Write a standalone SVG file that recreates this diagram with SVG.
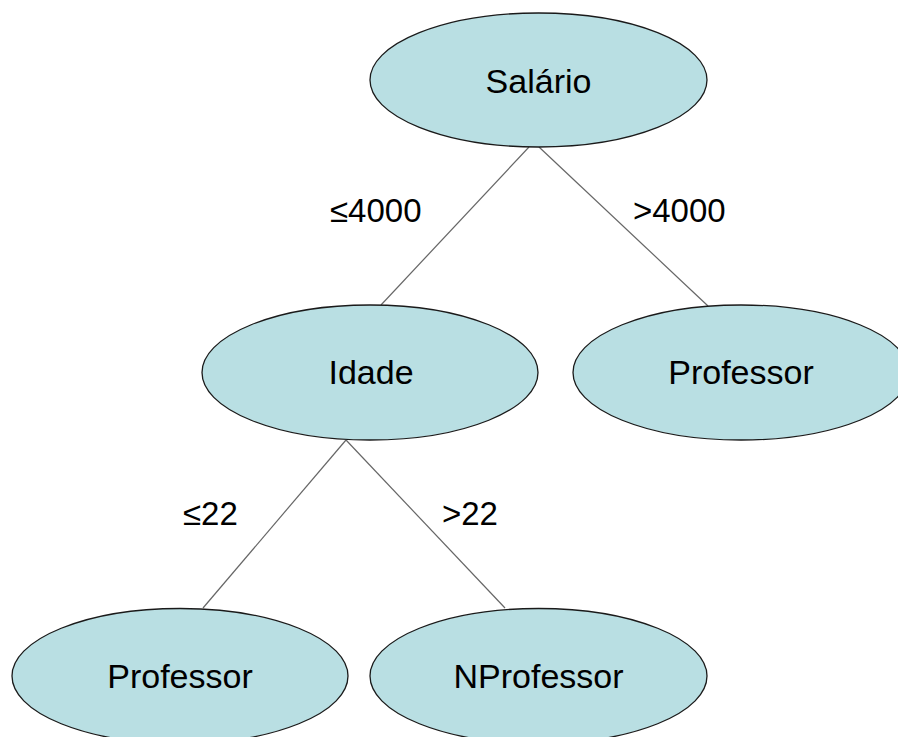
<svg xmlns="http://www.w3.org/2000/svg" width="898" height="737" viewBox="0 0 898 737">
  <style>
    .node ellipse { fill: #b9dfe3; stroke: #1a1a1a; stroke-width: 1.3; }
    .node text { font-family: "Liberation Sans", Arial, sans-serif; font-size: 34px; fill: #000; text-anchor: middle; }
    .edge { stroke: #666; stroke-width: 1.2; fill: none; }
    .label { font-family: "Liberation Sans", Arial, sans-serif; font-size: 33px; fill: #000; }
  </style>
  <rect width="898" height="737" fill="#fff"/>

  <!-- branches -->
  <g id="connectors">
    <line class="edge" x1="529" y1="147" x2="381" y2="305"/>
    <line class="edge" x1="539" y1="147" x2="708" y2="306"/>
    <line class="edge" x1="346" y1="440" x2="203" y2="608"/>
    <line class="edge" x1="346" y1="440" x2="505" y2="608"/>
  </g>

  <!-- branch conditions -->
  <g id="labels">
    <text class="label" x="330" y="222">≤4000</text>
    <text class="label" x="633" y="222">&gt;4000</text>
    <text class="label" x="183" y="525">≤22</text>
    <text class="label" x="442" y="525">&gt;22</text>
  </g>

  <g id="salario" class="node">
    <ellipse cx="538.5" cy="80" rx="168.5" ry="67"/>
    <text x="538.5" y="93">Salário</text>
  </g>

  <g id="idade" class="node">
    <ellipse cx="370" cy="372.5" rx="168" ry="67.5"/>
    <text x="371" y="384">Idade</text>
  </g>

  <g id="professor-right" class="node">
    <ellipse cx="741" cy="372.5" rx="168" ry="67.5"/>
    <text x="741" y="384">Professor</text>
  </g>

  <g id="professor-left" class="node">
    <ellipse cx="180" cy="676" rx="168" ry="67.5"/>
    <text x="180" y="688">Professor</text>
  </g>

  <g id="nprofessor" class="node">
    <ellipse cx="538.5" cy="676" rx="168.5" ry="67.5"/>
    <text x="538.5" y="688">NProfessor</text>
  </g>
</svg>
